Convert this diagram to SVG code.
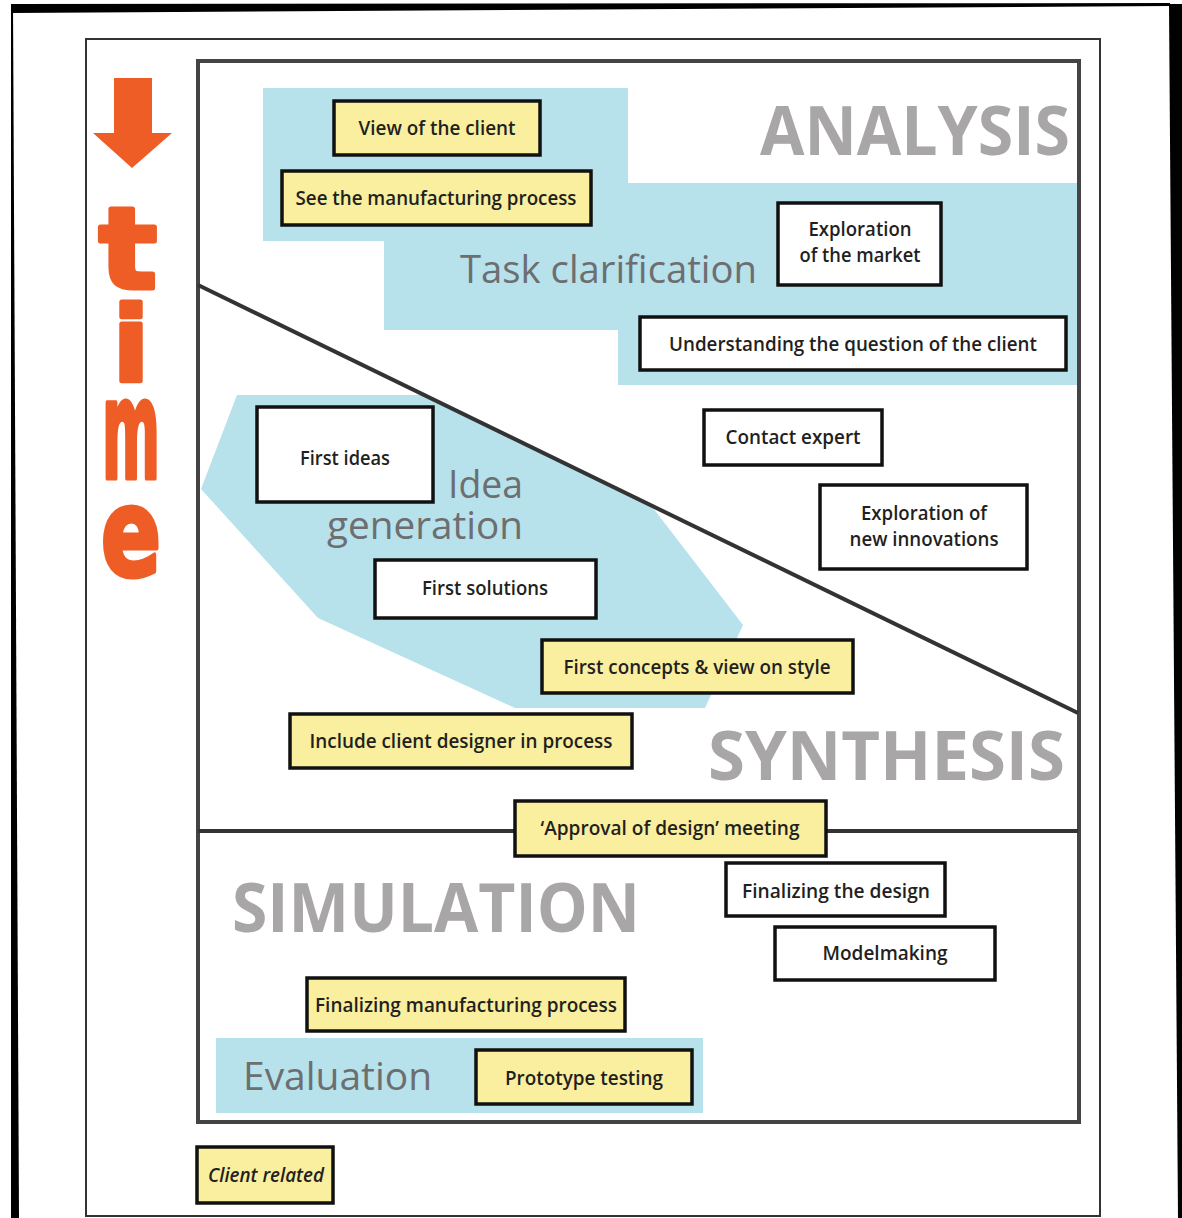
<svg xmlns="http://www.w3.org/2000/svg" width="1182" height="1218" viewBox="0 0 1182 1218">
<style>
.box{stroke:#111;stroke-width:3.5}
.y{fill:#f9ef9f}
.w{fill:#ffffff}
.bt{font-family:"Open Sans","Liberation Sans",sans-serif;font-size:19px;font-weight:600;fill:#231f20;text-anchor:middle}
.big{font-family:"Open Sans","Liberation Sans",sans-serif;font-weight:700;font-size:68px;fill:#a8a6a7}
.sub{font-family:"Open Sans","Liberation Sans",sans-serif;font-size:38px;fill:#6d6e70}
.blue{fill:#b7e1eb}
.time{font-family:"DejaVu Sans","Liberation Sans",sans-serif;font-weight:700;fill:#ef5d26;stroke:#ef5d26;stroke-width:5;stroke-linejoin:round;text-anchor:middle}
</style>
<rect x="0" y="0" width="1182" height="1218" fill="#ffffff"/>
<!-- scan borders -->
<polygon points="11,4 1170,3 1170,6 11,13" fill="#000"/>
<polygon points="1169,4 1182,4 1182,1218 1178,1218" fill="#000"/>
<polygon points="11,4 13,4 19,1218 11,1218" fill="#000"/>
<!-- outer frame -->
<rect x="86" y="39" width="1014" height="1177" fill="none" stroke="#333" stroke-width="2"/>
<!-- blue areas -->
<g id="areas">
<polygon class="blue" points="263,88 628,88 628,183 1078,183 1078,385 618,385 618,330 384,330 384,241 263,241"/>
<polygon class="blue" points="237,395 425,395 650,504 743,625 705,708 515,708 318,618 201,489"/>
<rect class="blue" x="216" y="1038" width="487" height="75"/>
</g>
<!-- inner frame -->
<rect x="198" y="61" width="881" height="1061" fill="none" stroke="#444" stroke-width="4"/>
<g id="connectors" stroke="#333" stroke-width="4" fill="none">
<line x1="198" y1="285" x2="1078" y2="713"/>
<line x1="198" y1="831" x2="1078" y2="831"/>
</g>
<!-- time arrow -->
<g id="time">
<polygon points="114,78 152,78 152,133 172,133 132,168 93,133 114,133" fill="#ef5d26"/>
<text class="time"><tspan x="128" y="288" font-size="112" textLength="58" lengthAdjust="spacingAndGlyphs">t</tspan><tspan x="131" y="381" font-size="104" textLength="36" lengthAdjust="spacingAndGlyphs">i</tspan><tspan x="131" y="478" font-size="138" textLength="58" lengthAdjust="spacingAndGlyphs">m</tspan><tspan x="131" y="575" font-size="122" textLength="60" lengthAdjust="spacingAndGlyphs">e</tspan></text>
</g>
<!-- phase labels -->
<g id="labels">
<text class="big" x="760" y="155" textLength="310" lengthAdjust="spacingAndGlyphs">ANALYSIS</text>
<text class="big" x="708" y="780" textLength="357" lengthAdjust="spacingAndGlyphs">SYNTHESIS</text>
<text class="big" x="232" y="932" textLength="408" lengthAdjust="spacingAndGlyphs">SIMULATION</text>
<text class="sub" x="460" y="283" font-size="40" textLength="297" lengthAdjust="spacingAndGlyphs">Task clarification</text>
<text class="sub"><tspan x="448" y="498" textLength="75" lengthAdjust="spacingAndGlyphs">Idea</tspan><tspan x="327" y="539" textLength="196" lengthAdjust="spacingAndGlyphs">generation</tspan></text>
<text class="sub" x="243" y="1090" font-size="40" textLength="189" lengthAdjust="spacingAndGlyphs">Evaluation</text>
</g>
<!-- nodes -->
<g id="view-client"><rect class="box y" x="334" y="101" width="206" height="54"/><text class="bt" x="437" y="135" textLength="157" lengthAdjust="spacingAndGlyphs">View of the client</text></g>
<g id="see-manufacturing"><rect class="box y" x="282" y="171" width="309" height="54"/><text class="bt" x="436" y="205" textLength="281" lengthAdjust="spacingAndGlyphs">See the manufacturing process</text></g>
<g id="exploration-market"><rect class="box w" x="778" y="203" width="163" height="82"/><text class="bt" x="860" y="236" textLength="103" lengthAdjust="spacingAndGlyphs">Exploration</text><text class="bt" x="860" y="262" textLength="121" lengthAdjust="spacingAndGlyphs">of the market</text></g>
<g id="understanding"><rect class="box w" x="640" y="317" width="426" height="53"/><text class="bt" x="853" y="351" textLength="368" lengthAdjust="spacingAndGlyphs">Understanding the question of the client</text></g>
<g id="first-ideas"><rect class="box w" x="257" y="407" width="176" height="95"/><text class="bt" x="345" y="465" textLength="90" lengthAdjust="spacingAndGlyphs">First ideas</text></g>
<g id="contact-expert"><rect class="box w" x="704" y="410" width="178" height="55"/><text class="bt" x="793" y="444" textLength="135" lengthAdjust="spacingAndGlyphs">Contact expert</text></g>
<g id="exploration-innovations"><rect class="box w" x="820" y="485" width="207" height="84"/><text class="bt" x="924" y="520" textLength="126" lengthAdjust="spacingAndGlyphs">Exploration of</text><text class="bt" x="924" y="546" textLength="149" lengthAdjust="spacingAndGlyphs">new innovations</text></g>
<g id="first-solutions"><rect class="box w" x="375" y="560" width="221" height="58"/><text class="bt" x="485" y="595" textLength="126" lengthAdjust="spacingAndGlyphs">First solutions</text></g>
<g id="first-concepts"><rect class="box y" x="542" y="640" width="311" height="53"/><text class="bt" x="697" y="674" textLength="267" lengthAdjust="spacingAndGlyphs">First concepts &amp; view on style</text></g>
<g id="include-client"><rect class="box y" x="290" y="714" width="342" height="54"/><text class="bt" x="461" y="748" textLength="303" lengthAdjust="spacingAndGlyphs">Include client designer in process</text></g>
<g id="approval"><rect class="box y" x="515" y="801" width="311" height="55"/><text class="bt" x="670" y="835" textLength="259" lengthAdjust="spacingAndGlyphs">‘Approval of design’ meeting</text></g>
<g id="finalizing-design"><rect class="box w" x="726" y="863" width="219" height="53"/><text class="bt" x="836" y="898" textLength="188" lengthAdjust="spacingAndGlyphs">Finalizing the design</text></g>
<g id="modelmaking"><rect class="box w" x="775" y="927" width="220" height="53"/><text class="bt" x="885" y="960" textLength="125" lengthAdjust="spacingAndGlyphs">Modelmaking</text></g>
<g id="finalizing-manufacturing"><rect class="box y" x="307" y="978" width="318" height="53"/><text class="bt" x="466" y="1012" textLength="302" lengthAdjust="spacingAndGlyphs">Finalizing manufacturing process</text></g>
<g id="prototype-testing"><rect class="box y" x="476" y="1050" width="216" height="54"/><text class="bt" x="584" y="1085" textLength="158" lengthAdjust="spacingAndGlyphs">Prototype testing</text></g>
<g id="legend"><rect class="box y" x="197" y="1147" width="136" height="56"/><text class="bt" x="266" y="1182" font-style="italic" textLength="116" lengthAdjust="spacingAndGlyphs">Client related</text></g>
</svg>
